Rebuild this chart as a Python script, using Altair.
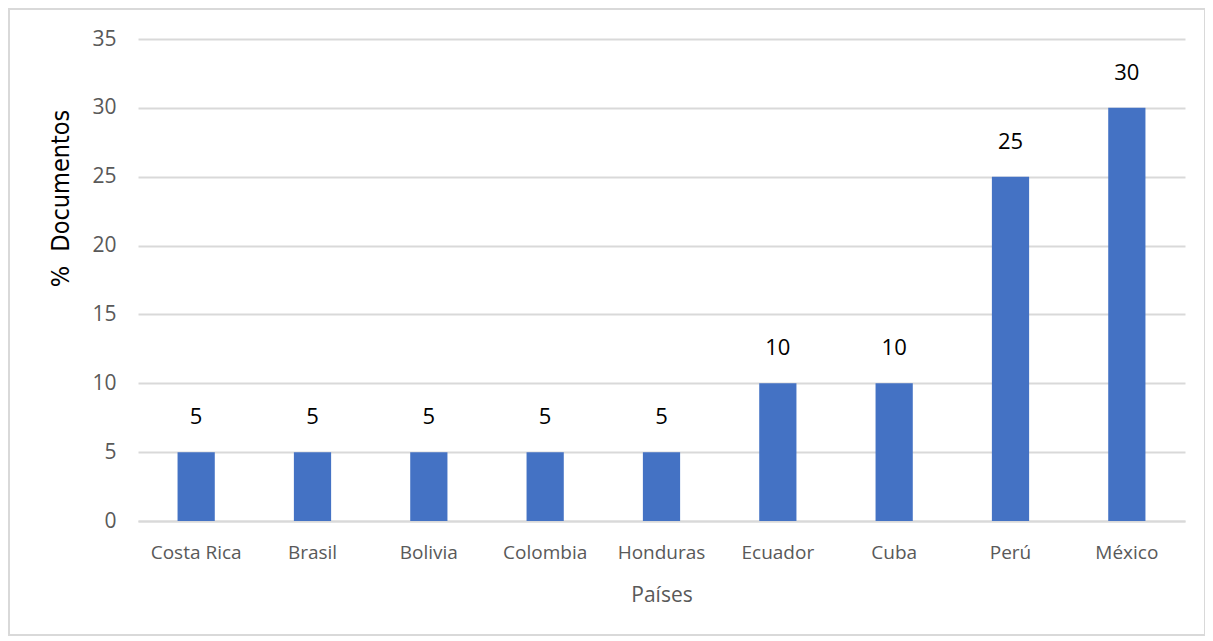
import altair as alt
import pandas as pd

paises = ["Costa Rica", "Brasil", "Bolivia", "Colombia", "Honduras", "Ecuador", "Cuba", "Perú", "México"]
valores = [5, 5, 5, 5, 5, 10, 10, 25, 30]

df = pd.DataFrame({"pais": paises, "valor": valores})

x_enc = alt.X("pais:N", sort=paises, title="Países",
              scale=alt.Scale(paddingInner=0.68, paddingOuter=0.34),
              axis=alt.Axis(labelAngle=0, labelFontSize=19, labelColor="#595959",
                            labelFont="Open Sans", labelPadding=22, ticks=False,
                            domainColor="#d9d9d9", domainWidth=2,
                            titleFontSize=21, titleColor="#595959", titleFont="Open Sans",
                            titleFontWeight="normal", titlePadding=22))
y_enc = alt.Y("valor:Q", title="%\u00a0\u00a0Documentos",
              scale=alt.Scale(domain=[0, 35], nice=False),
              axis=alt.Axis(values=[0, 5, 10, 15, 20, 25, 30, 35], labelFontSize=21,
                            labelColor="#595959", labelFont="Open Sans", labelPadding=22,
                            ticks=False, domain=False, gridColor="#d9d9d9", gridWidth=2,
                            titleFontSize=25, titleColor="#000000", titleFont="DejaVu Sans Condensed",
                            titleFontWeight="normal", titlePadding=18, titleY=159))

base = alt.Chart(df)
bars = base.mark_bar(color="#4472C4").encode(x=x_enc, y=y_enc)
labels = base.mark_text(dy=-35, fontSize=22, color="#000000", font="Open Sans").encode(
    x=alt.X("pais:N", sort=paises), y="valor:Q", text="valor:Q")

border = alt.Chart(pd.DataFrame({"b": [1]})).mark_rect(
    fill=None, stroke="#d9d9d9", strokeWidth=2).encode(
    x=alt.value(-129), x2=alt.value(1067), y=alt.value(-30), y2=alt.value(596))

chart = alt.layer(border, bars, labels).properties(
    width=1047, height=482,
    padding={"left": 130, "top": 31, "right": 20, "bottom": 115},
    autosize=alt.AutoSizeParams(type="none"),
).configure_view(stroke=None)

chart.save("out.html", embed_options={"renderer": "svg", "actions": False})
